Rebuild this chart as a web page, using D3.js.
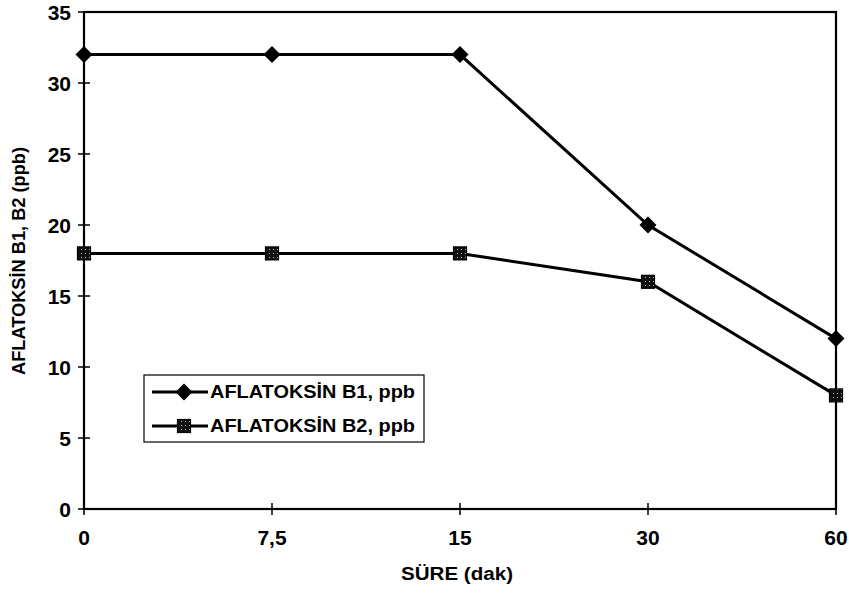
<!DOCTYPE html>
<html>
<head>
<meta charset="UTF-8">
<script src="https://d3js.org/d3.v7.min.js"></script>
<style>
  body {margin:0; background:#fff;}
  text {font-family: Arial, "Liberation Sans", sans-serif; fill:#000;}
  .tick-label {font-family: "Liberation Sans Narrow", "Arial Narrow", Arial, sans-serif; font-size:21px; font-weight:bold;}
  .axis-title {font-size:18px; font-weight:bold;}
  .legend-text {font-size:18px; font-weight:bold;}
</style>
</head>
<body>
<div id="chart"></div>
<script>
var categories = ["0", "7,5", "15", "30", "60"];
var b1 = [32, 32, 32, 20, 12];
var b2 = [18, 18, 18, 16, 8];
var yTicks = [0, 5, 10, 15, 20, 25, 30, 35];
var seriesNames = ["AFLATOKSİN B1, ppb", "AFLATOKSİN B2, ppb"];

var W = 849, H = 595;
var margin = {top: 12, right: 13, bottom: 86, left: 84};
var width = W - margin.left - margin.right,
    height = H - margin.top - margin.bottom;

var svg = d3.select("#chart").append("svg")
    .attr("width", W).attr("height", H);

var g = svg.append("g")
    .attr("transform", "translate(" + margin.left + "," + margin.top + ")");

var x = d3.scalePoint().domain(categories).range([0, width]);
var y = d3.scaleLinear().domain([0, 35]).range([height, 0]);

// plot frame
g.append("rect")
    .attr("x", 0).attr("y", 0)
    .attr("width", width).attr("height", height)
    .attr("fill", "none").attr("stroke", "#000").attr("stroke-width", 2.2);

// y ticks (crossing)
g.selectAll(".ytick").data(yTicks).enter().append("line")
    .attr("x1", -6).attr("x2", 6)
    .attr("y1", function(d) {return y(d)}).attr("y2", function(d) {return y(d)})
    .attr("stroke", "#000").attr("stroke-width", 1.5);
g.selectAll(".ylab").data(yTicks).enter().append("text")
    .attr("class", "tick-label")
    .attr("x", -13).attr("y", function(d) {return y(d)})
    .attr("dy", "0.36em").attr("text-anchor", "end")
    .text(function(d) {return d});

// x ticks
g.selectAll(".xtick").data(categories).enter().append("line")
    .attr("x1", function(d) {return x(d)}).attr("x2", function(d) {return x(d)})
    .attr("y1", height - 6).attr("y2", height + 6)
    .attr("stroke", "#000").attr("stroke-width", 1.5);
g.selectAll(".xlab").data(categories).enter().append("text")
    .attr("class", "tick-label")
    .attr("x", function(d) {return x(d)}).attr("y", height + 36)
    .attr("text-anchor", "middle")
    .text(function(d) {return d});

// axis titles
svg.append("text").attr("class", "axis-title")
    .attr("x", 457).attr("y", 580)
    .attr("text-anchor", "middle")
    .attr("textLength", 112).attr("lengthAdjust", "spacingAndGlyphs")
    .text("SÜRE (dak)");
svg.append("text").attr("class", "axis-title")
    .attr("transform", "translate(25,261) rotate(-90)")
    .attr("text-anchor", "middle")
    .attr("textLength", 228).attr("lengthAdjust", "spacingAndGlyphs")
    .text("AFLATOKSİN B1, B2 (ppb)");

// hatched pattern for square marker
var defs = svg.append("defs");
var pat = defs.append("pattern").attr("id", "hatch")
    .attr("width", 4).attr("height", 4).attr("patternUnits", "userSpaceOnUse");
pat.append("rect").attr("width", 4).attr("height", 4).attr("fill", "#111");
pat.append("rect").attr("x", 1).attr("y", 1).attr("width", 1).attr("height", 1).attr("fill", "#bbb");

var line = d3.line()
    .x(function(d, i) {return x(categories[i])})
    .y(function(d) {return y(d)});

g.append("path").datum(b1).attr("d", line)
    .attr("fill", "none").attr("stroke", "#000").attr("stroke-width", 3);
g.append("path").datum(b2).attr("d", line)
    .attr("fill", "none").attr("stroke", "#000").attr("stroke-width", 3);

function drawDiamond(sel, cx, cy) {
  var r = 8.5;
  sel.append("path")
     .attr("d", "M0," + (-r) + "L" + r + ",0L0," + r + "L" + (-r) + ",0Z")
     .attr("transform", "translate(" + cx + "," + cy + ")")
     .attr("fill", "#000");
}
function drawSquare(sel, cx, cy) {
  sel.append("rect")
     .attr("x", cx - 6.5).attr("y", cy - 6.5)
     .attr("width", 13).attr("height", 13)
     .attr("fill", "url(#hatch)").attr("stroke", "#000").attr("stroke-width", 1.2);
}

b1.forEach(function(d, i) {drawDiamond(g, x(categories[i]), y(d))});
b2.forEach(function(d, i) {drawSquare(g, x(categories[i]), y(d))});

// legend
var lg = svg.append("g");
lg.append("rect")
    .attr("x", 144).attr("y", 375).attr("width", 280).attr("height", 67)
    .attr("fill", "#fff").attr("stroke", "#000").attr("stroke-width", 1.2);
[392, 426].forEach(function(ly, i) {
  lg.append("line").attr("x1", 152).attr("x2", 208)
    .attr("y1", ly).attr("y2", ly)
    .attr("stroke", "#000").attr("stroke-width", 3);
  if (i === 0) drawDiamond(lg, 184, ly); else drawSquare(lg, 184, ly);
  lg.append("text").attr("class", "legend-text")
    .attr("x", 210).attr("y", ly).attr("dy", "0.36em")
    .attr("textLength", 205).attr("lengthAdjust", "spacingAndGlyphs")
    .text(seriesNames[i]);
});
</script>
</body>
</html>
